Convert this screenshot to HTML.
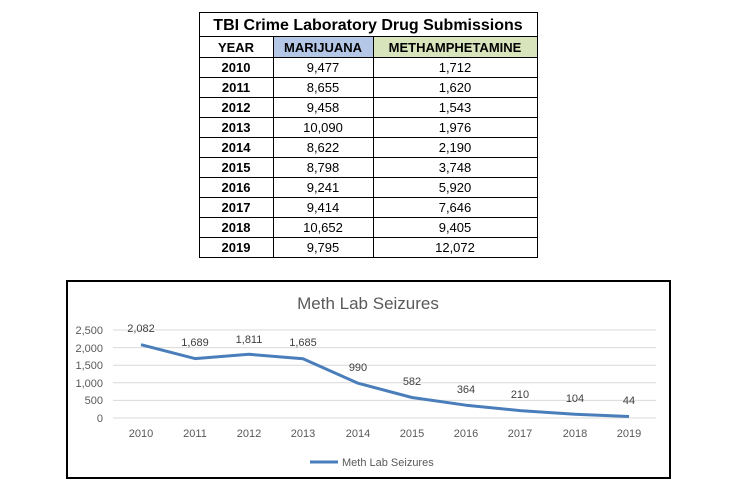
<!DOCTYPE html>
<html><head><style>
html,body{margin:0;padding:0;background:#fff;}
svg{display:block;}
</style></head><body>
<svg width="742" height="490" xmlns="http://www.w3.org/2000/svg" font-family="Liberation Sans, sans-serif">
<rect width="742" height="490" fill="#fff"/>
<!-- table -->
<rect x="273" y="36" width="100" height="21" fill="#b4c7e7"/>
<rect x="373" y="36" width="165" height="21" fill="#d8e4bc"/>
<g stroke="#000" stroke-width="1" fill="none">
<rect x="199.5" y="12.5" width="338" height="245"/>
<line x1="199" y1="36.5" x2="538" y2="36.5"/>
<line x1="273.5" y1="36" x2="273.5" y2="257"/>
<line x1="373.5" y1="36" x2="373.5" y2="257"/>
<line x1="199" y1="57.5" x2="538" y2="57.5"/>
<line x1="199" y1="77.5" x2="538" y2="77.5"/>
<line x1="199" y1="97.5" x2="538" y2="97.5"/>
<line x1="199" y1="117.5" x2="538" y2="117.5"/>
<line x1="199" y1="137.5" x2="538" y2="137.5"/>
<line x1="199" y1="157.5" x2="538" y2="157.5"/>
<line x1="199" y1="177.5" x2="538" y2="177.5"/>
<line x1="199" y1="197.5" x2="538" y2="197.5"/>
<line x1="199" y1="217.5" x2="538" y2="217.5"/>
<line x1="199" y1="237.5" x2="538" y2="237.5"/>
</g>
<text x="368" y="30" text-anchor="middle" font-size="16" font-weight="bold">TBI Crime Laboratory Drug Submissions</text>
<g font-size="13" font-weight="bold" text-anchor="middle">
<text x="236" y="52">YEAR</text><text x="323" y="52">MARIJUANA</text><text x="455" y="52">METHAMPHETAMINE</text>
</g>
<g font-size="13" text-anchor="middle">
<g font-weight="bold">
<text x="236" y="72">2010</text><text x="236" y="92">2011</text><text x="236" y="112">2012</text><text x="236" y="132">2013</text><text x="236" y="152">2014</text><text x="236" y="172">2015</text><text x="236" y="192">2016</text><text x="236" y="212">2017</text><text x="236" y="232">2018</text><text x="236" y="252">2019</text>
</g>
<text x="323" y="72">9,477</text><text x="323" y="92">8,655</text><text x="323" y="112">9,458</text><text x="323" y="132">10,090</text><text x="323" y="152">8,622</text><text x="323" y="172">8,798</text><text x="323" y="192">9,241</text><text x="323" y="212">9,414</text><text x="323" y="232">10,652</text><text x="323" y="252">9,795</text>
<text x="455" y="72">1,712</text><text x="455" y="92">1,620</text><text x="455" y="112">1,543</text><text x="455" y="132">1,976</text><text x="455" y="152">2,190</text><text x="455" y="172">3,748</text><text x="455" y="192">5,920</text><text x="455" y="212">7,646</text><text x="455" y="232">9,405</text><text x="455" y="252">12,072</text>
</g>
<!-- chart -->
<rect x="67" y="281" width="603" height="197" fill="#fff" stroke="#000" stroke-width="2"/>
<text x="368" y="309" text-anchor="middle" font-size="17" fill="#595959">Meth Lab Seizures</text>
<g stroke="#d9d9d9" stroke-width="1">
<line x1="113" y1="330" x2="656" y2="330"/><line x1="113" y1="347.6" x2="656" y2="347.6"/><line x1="113" y1="365.2" x2="656" y2="365.2"/><line x1="113" y1="382.8" x2="656" y2="382.8"/><line x1="113" y1="400.4" x2="656" y2="400.4"/><line x1="113" y1="418" x2="656" y2="418"/>
</g>
<g font-size="11" fill="#595959" text-anchor="end">
<text x="103" y="334">2,500</text><text x="103" y="352">2,000</text><text x="103" y="369">1,500</text><text x="103" y="387">1,000</text><text x="103" y="404">500</text><text x="103" y="422">0</text>
</g>
<g font-size="11" fill="#595959" text-anchor="middle">
<text x="141" y="437">2010</text><text x="195" y="437">2011</text><text x="249" y="437">2012</text><text x="303" y="437">2013</text><text x="358" y="437">2014</text><text x="412" y="437">2015</text><text x="466" y="437">2016</text><text x="520" y="437">2017</text><text x="575" y="437">2018</text><text x="629" y="437">2019</text>
</g>
<polyline fill="none" stroke="#4a7ebb" stroke-width="3" stroke-linejoin="round" points="141,344.7 195,358.6 249,354.3 303,358.7 358,383.2 412,397.5 466,405.2 520,410.6 575,414.3 629,416.5"/>
<g font-size="11" fill="#404040" text-anchor="middle">
<text x="141" y="332">2,082</text><text x="195" y="346">1,689</text><text x="249" y="343">1,811</text><text x="303" y="346">1,685</text><text x="358" y="371">990</text><text x="412" y="385">582</text><text x="466" y="393">364</text><text x="520" y="398">210</text><text x="575" y="402">104</text><text x="629" y="404">44</text>
</g>
<line x1="310" y1="462" x2="338" y2="462" stroke="#4a7ebb" stroke-width="3"/>
<text x="342" y="466" font-size="11" fill="#595959">Meth Lab Seizures</text>
</svg>
</body></html>
